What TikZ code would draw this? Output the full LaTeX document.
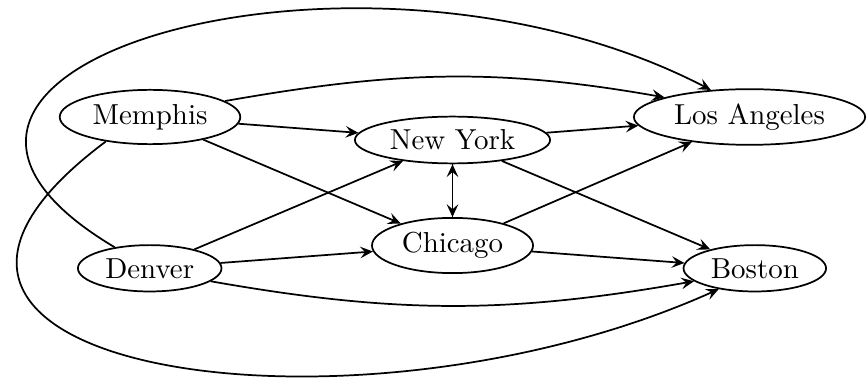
\documentclass[tikz,border=0pt]{standalone}
\usetikzlibrary{arrows.meta,shapes.geometric}
\begin{document}
\begin{tikzpicture}[x=0.346pt,y=-0.346pt,
  city/.style={draw,ellipse,line width=0.6pt,inner sep=2.2pt,font=\fontsize{10}{12}\selectfont},
  link/.style={line width=0.6pt,-{Stealth[length=4.4pt,width=4pt,inset=1.7pt]}}]
\useasboundingbox (0,0) rectangle (868,381);
\node[city] (mem) at (150,117) {Memphis};
\node[city] (ny)  at (452.5,140) {New York};
\node[city] (la)  at (749.5,117) {Los Angeles};
\node[city] (chi) at (452.5,245.5) {Chicago};
\node[city] (den) at (149.7,268.3) {Denver};
\node[city] (bos) at (754.8,268.3) {Boston};
% straight edges
\draw[link] (mem) -- (ny);
\draw[link] (mem) -- (chi);
\draw[link] (den) -- (ny);
\draw[link] (den) -- (chi);
\draw[link] (ny) -- (la);
\draw[link] (ny) -- (bos);
\draw[link] (ny) -- (chi);
\draw[link] (chi) -- (ny);
\draw[link] (chi) -- (la);
\draw[link] (chi) -- (bos);
% gentle arcs
\draw[link] (mem.12) to[out=10,in=170] (la.167);
\draw[link] (den.-12) to[out=-10,in=190] (bos.192);
% large arcs
\draw[link] (den.149) .. controls (-190,66) and (360,-92) .. (la.145);
\draw[link] (mem.-151) .. controls (-200,370) and (350,455) .. (bos.-150);
\end{tikzpicture}
\end{document}
